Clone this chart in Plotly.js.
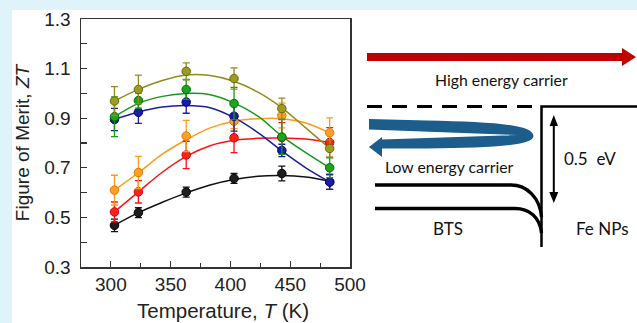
<!DOCTYPE html>
<html>
<head>
<meta charset="utf-8">
<script src="https://cdn.plot.ly/plotly-3.0.1.min.js"></script>
<style>html,body{margin:0;padding:0;background:#dff3fb;}#chart{width:637px;height:323px;}</style>
</head>
<body>
<div id="chart"></div>
<script>
// ---- data ----
const temperature = [303, 323, 363, 403, 443, 483];
const fitTemperature = [303, 323, 343, 363, 383, 403, 423, 443, 463, 483];

const ztBlack  = [0.468, 0.519, 0.602, 0.657, 0.677, 0.643];
const ztRed    = [0.522, 0.603, 0.752, 0.821, 0.822, 0.802];
const ztOrange = [0.610, 0.681, 0.828, 0.888, 0.911, 0.841];
const ztBlue   = [0.895, 0.924, 0.965, 0.908, 0.770, 0.643];
const ztGreen  = [0.906, 0.971, 1.016, 0.959, 0.824, 0.700];
const ztOlive  = [0.969, 1.016, 1.089, 1.060, 0.939, 0.778];

const errBlack  = [0.025, 0.020, 0.020, 0.020, 0.030, 0.030];
const errRed    = [0.040, 0.045, 0.055, 0.060, 0.060, 0.060];
const errOrange = [0.060, 0.065, 0.063, 0.030, 0.050, 0.060];
const errBlue   = [0.045, 0.045, 0.045, 0.060, 0.025, 0.030];
const errGreen  = [0.080, 0.030, 0.040, 0.065, 0.070, 0.040];
const errOlive  = [0.058, 0.058, 0.034, 0.043, 0.042, 0.035];

const fitBlack  = [0.468, 0.519, 0.561, 0.599, 0.631, 0.653, 0.666, 0.669, 0.663, 0.646];
const fitRed    = [0.522, 0.603, 0.682, 0.746, 0.789, 0.811, 0.819, 0.820, 0.816, 0.802];
const fitOrange = [0.610, 0.680, 0.755, 0.813, 0.861, 0.888, 0.898, 0.898, 0.881, 0.841];
const fitBlue   = [0.895, 0.925, 0.945, 0.951, 0.942, 0.902, 0.842, 0.768, 0.700, 0.643];
const fitGreen  = [0.906, 0.960, 0.988, 1.000, 0.995, 0.962, 0.908, 0.828, 0.761, 0.700];
const fitOlive  = [0.969, 1.016, 1.052, 1.074, 1.072, 1.049, 1.005, 0.942, 0.861, 0.778];

const yTicks = [0.3, 0.5, 0.7, 0.9, 1.1, 1.3];
const xTicks = [300, 350, 400, 450, 500];

// ---- styles ----
const series = [
  {y: ztBlack,  e: errBlack,  fit: fitBlack,  line: '#111111', fill: '#1e1e1e', edge: '#000000'},
  {y: ztRed,    e: errRed,    fit: fitRed,    line: '#ff1010', fill: '#ff2020', edge: '#cc0000'},
  {y: ztOrange, e: errOrange, fit: fitOrange, line: '#ff9a1a', fill: '#ff9f2a', edge: '#e07800'},
  {y: ztBlue,   e: errBlue,   fit: fitBlue,   line: '#1c1ca0', fill: '#1c1ca8', edge: '#000080'},
  {y: ztGreen,  e: errGreen,  fit: fitGreen,  line: '#179a17', fill: '#1ea31e', edge: '#007000'},
  {y: ztOlive,  e: errOlive,  fit: fitOlive,  line: '#8e8e1c', fill: '#9c9c22', edge: '#6a6a00'}
];

const traces = [];
series.forEach(s => traces.push({
  x: fitTemperature, y: s.fit, mode: 'lines', hoverinfo: 'skip', showlegend: false,
  line: {color: s.line, width: 1.5, shape: 'spline', smoothing: 1}
}));
series.forEach(s => traces.push({
  x: temperature, y: s.y, mode: 'markers', showlegend: false,
  marker: {size: 8.5, color: s.fill, line: {color: s.edge, width: 1}},
  error_y: {type: 'data', array: s.e, visible: true, color: s.line, thickness: 1.3, width: 3.5}
}));

// ---- schematic helpers (pixel -> paper) ----
const L = 81, R = 350, TOP = 19, BOT = 267;
const P = x => (x - L) / (R - L);
const Q = y => (BOT - y) / (BOT - TOP);
const pt = (x, y) => P(x).toFixed(5) + ',' + Q(y).toFixed(5);

const shapes = [
  // white panel
  {type: 'rect', xref: 'paper', yref: 'paper', x0: P(12), x1: P(640), y0: Q(10), y1: Q(330),
   fillcolor: '#ffffff', line: {width: 0}, layer: 'below'},
  // red arrow
  {type: 'line', xref: 'paper', yref: 'paper', x0: P(367), y0: Q(57), x1: P(624), y1: Q(57),
   line: {color: '#c00000', width: 8}},
  {type: 'path', xref: 'paper', yref: 'paper',
   path: 'M' + pt(622, 48) + ' L' + pt(636, 57) + ' L' + pt(622, 66) + ' Z',
   fillcolor: '#c00000', line: {width: 0}},
  // dashed level
  {type: 'line', xref: 'paper', yref: 'paper', x0: P(367), y0: Q(106.5), x1: P(532), y1: Q(106.5),
   line: {color: '#000000', width: 3, dash: '15px,10px'}},
  // barrier step
  {type: 'path', xref: 'paper', yref: 'paper',
   path: 'M' + pt(541.5, 247) + ' L' + pt(541.5, 106.5) + ' L' + pt(640, 106.5),
   line: {color: '#000000', width: 2.5}},
  // band bending curves
  {type: 'path', xref: 'paper', yref: 'paper',
   path: 'M' + pt(375, 185) + ' L' + pt(511, 185) + ' C' + pt(527, 185) + ' ' + pt(540, 198) + ' ' + pt(541.5, 217),
   line: {color: '#000000', width: 3.3}},
  {type: 'path', xref: 'paper', yref: 'paper',
   path: 'M' + pt(375, 208.5) + ' L' + pt(515, 208.5) + ' C' + pt(529, 208.5) + ' ' + pt(540, 217) + ' ' + pt(541.5, 233),
   line: {color: '#000000', width: 3.3}},
  // double arrow 0.5 eV
  {type: 'line', xref: 'paper', yref: 'paper', x0: P(553.8), y0: Q(124), x1: P(553.8), y1: Q(194),
   line: {color: '#000000', width: 2}},
  {type: 'path', xref: 'paper', yref: 'paper',
   path: 'M' + pt(553.8, 115) + ' L' + pt(558, 126) + ' L' + pt(549.6, 126) + ' Z',
   fillcolor: '#000000', line: {width: 0}},
  {type: 'path', xref: 'paper', yref: 'paper',
   path: 'M' + pt(553.8, 203) + ' L' + pt(558.3, 192) + ' L' + pt(549.3, 192) + ' Z',
   fillcolor: '#000000', line: {width: 0}},
  // blue U-turn arrow
  {type: 'path', xref: 'paper', yref: 'paper',
   path: 'M' + pt(369, 119) +
         ' L' + pt(427, 120.5) +
         ' C' + pt(490, 122) + ' ' + pt(533, 124) + ' ' + pt(533.5, 136) +
         ' C' + pt(533, 146) + ' ' + pt(490, 147.5) + ' ' + pt(427, 148.5) +
         ' L' + pt(382, 148.5) +
         ' L' + pt(382, 157) +
         ' L' + pt(369, 147) +
         ' L' + pt(382, 137) +
         ' L' + pt(382, 139.5) +
         ' L' + pt(518, 135) +
         ' L' + pt(369, 129.5) + ' Z',
   fillcolor: '#1c5d8c', line: {width: 0}}
];

const axisFamily = '"Liberation Sans", Arial, sans-serif';
const txt = (text, x, y, size, family, color) => ({
  text, xref: 'paper', yref: 'paper', x: P(x), y: Q(y), showarrow: false,
  xanchor: 'center', yanchor: 'middle',
  font: {family: family || 'Lato, "Open Sans", sans-serif', size, color: color || '#111111'}
});

const annotations = [
  txt('High energy carrier', 501, 79, 15.8),
  txt('Low energy carrier', 449, 166.5, 15.8),
  txt('0.5\u00a0 eV', 590, 158, 17),
  txt('BTS', 448, 228, 17),
  txt('Fe NPs', 602.5, 228, 17),
  txt('Temperature, <i>T</i> (K)', 222.5, 310, 20.5, axisFamily, '#222222')
];

const tickFont = {family: axisFamily, size: 19, color: '#222222'};
const titleFont = {family: axisFamily, size: 19, color: '#222222'};

const layout = {
  width: 637, height: 323,
  margin: {l: L, r: 637 - R, t: TOP, b: 323 - BOT, pad: 0},
  paper_bgcolor: '#dff3fb', plot_bgcolor: '#ffffff',
  showlegend: false,
  xaxis: {
    range: [275, 500], tickmode: 'array', tickvals: xTicks, ticktext: xTicks.map(String),
    ticks: 'inside', ticklen: 6, tickwidth: 1.2, tickcolor: '#333333',
    showline: true, linecolor: '#333333', linewidth: 1.5, mirror: true,
    showgrid: false, zeroline: false, tickfont: tickFont,
    minor: {ticks: 'inside', ticklen: 4, tickwidth: 1.2, tickcolor: '#333333', dtick: 25, tick0: 275, showgrid: false},
    automargin: false
  },
  yaxis: {
    range: [0.3, 1.3], tickmode: 'array', tickvals: yTicks, ticktext: yTicks.map(v => v.toFixed(1)),
    ticks: 'inside', ticklen: 6, tickwidth: 1.2, tickcolor: '#333333',
    showline: true, linecolor: '#333333', linewidth: 1.5, mirror: true,
    showgrid: false, zeroline: false, tickfont: tickFont, ticklabelstandoff: 5,
    minor: {ticks: 'inside', ticklen: 6, tickwidth: 1.2, tickcolor: '#333333', dtick: 0.1, tick0: 0.3, showgrid: false},
    title: {text: 'Figure of Merit, <i>ZT</i>', font: titleFont, standoff: 9},
    automargin: false
  },
  shapes, annotations
};

Plotly.newPlot('chart', traces, layout, {displayModeBar: false, staticPlot: true});
</script>
</body>
</html>
